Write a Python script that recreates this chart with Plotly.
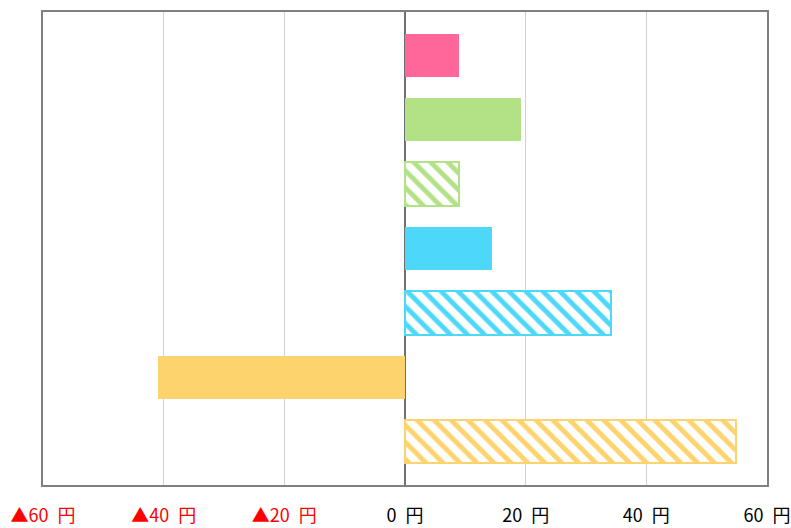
import plotly.graph_objects as go

categories = ["A", "B", "C", "D", "E", "F", "G"]
values = [9, 19.3, 9, 14.5, 34.2, -41, 54.8]
colors = ["#FF6699", "#B3E186", "#B3E186", "#4DD8FA", "#4DD8FA", "#FDD36D", "#FDD36D"]
hatched = [False, False, True, False, True, False, True]
tick_vals = [-60, -40, -20, 0, 20, 40, 60]
tick_text = ["<span style='color:red'>▲60\u2002円</span>", "<span style='color:red'>▲40\u2002円</span>",
             "<span style='color:red'>▲20\u2002円</span>", "0\u2002円", "20\u2002円", "40\u2002円", "60\u2002円"]

fig = go.Figure()
for i, (v, c, h) in enumerate(zip(values, colors, hatched)):
    if h:
        marker = dict(color="white", line=dict(color=c, width=2),
                      pattern=dict(shape="\\", fgcolor=c, bgcolor="white", size=12, solidity=0.4, fillmode="replace"))
    else:
        marker = dict(color=c, line=dict(width=0))
    fig.add_trace(go.Bar(x=[v], y=[i], orientation="h", width=0.67, marker=marker,
                         showlegend=False, name=categories[i]))

fig.update_layout(
    width=791, height=528,
    margin=dict(l=43, r=24, t=12, b=43),
    plot_bgcolor="white", paper_bgcolor="white",
    font=dict(family="Noto Sans CJK JP", size=18, color="black"),
    bargap=0,
)
fig.update_xaxes(range=[-60, 60], tickvals=tick_vals, ticktext=tick_text, automargin=False,
                 showgrid=True, gridcolor="#D0D0D0", gridwidth=1,
                 zeroline=True, zerolinecolor="#707070", zerolinewidth=1.5,
                 showline=True, linecolor="#808080", linewidth=1.5, mirror=True,
                 ticks="outside", ticklen=14, tickcolor="rgba(0,0,0,0)")
fig.update_yaxes(range=[6.67, -0.67], showticklabels=False, showgrid=False, zeroline=False, automargin=False,
                 showline=True, linecolor="#808080", linewidth=1.5, mirror=True)

fig.write_html("out.html", config={"displayModeBar": False},
               post_script="document.body.style.margin='0';document.body.style.overflow='hidden';")
